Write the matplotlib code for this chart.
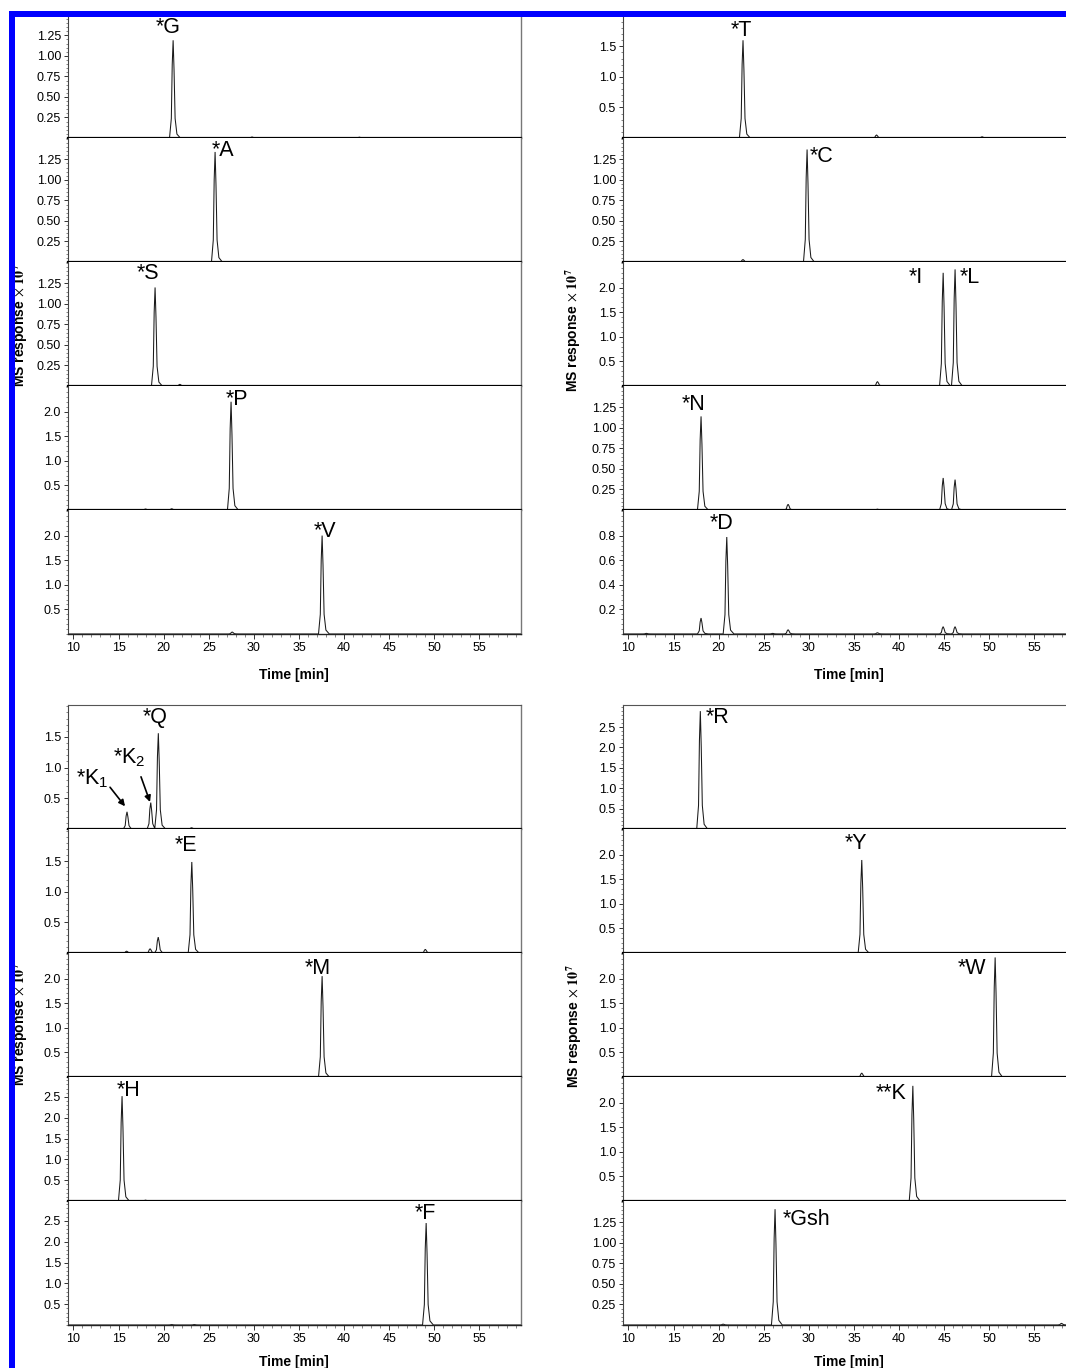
import matplotlib
matplotlib.use("Agg")
import matplotlib.pyplot as plt
from matplotlib.ticker import MultipleLocator, FixedLocator, FormatStrFormatter
from matplotlib.patches import Rectangle

plt.rcParams['font.family'] = ['Liberation Sans', 'DejaVu Sans']
plt.rcParams['mathtext.fontset'] = 'custom'
plt.rcParams['mathtext.rm'] = 'Liberation Sans'
plt.rcParams['mathtext.it'] = 'Liberation Sans:italic'
plt.rcParams['mathtext.bf'] = 'Liberation Sans:bold'

W, H = 1066, 1368
XMIN, XMAX = 9.4, 59.6

# peak profile (offset from apex in min, fraction of apex height)
SHAPE_DT = [-0.4, -0.2, -0.1, 0.0, 0.1, 0.22, 0.42, 0.8]
SHAPE_FR = [0.0, 0.2, 0.75, 1.0, 0.7, 0.2, 0.04, 0.0]

# ---------------- data: retention times (min) and apex heights (x 1e7) ----------------
G_t = [21.05, 29.8, 41.7];                 G_h = [1.19, 0.012, 0.01]
A_t = [25.7];                              A_h = [1.34]
S_t = [19.05, 21.8];                       S_h = [1.20, 0.02]
P_t = [18.0, 20.9, 27.47];                 P_h = [0.02, 0.025, 2.20]
V_t = [27.6, 37.56];                       V_h = [0.04, 2.00]

T_t = [22.7, 37.5, 49.2];                  T_h = [1.60, 0.05, 0.02]
C_t = [22.7, 29.8];                        C_h = [0.03, 1.37]
IL_t = [17.9, 37.6, 44.88, 46.2];          IL_h = [0.01, 0.09, 2.30, 2.37]
N_t = [18.05, 27.7, 37.6, 44.88, 46.2];    N_h = [1.14, 0.07, 0.01, 0.39, 0.37]
D_t = [12.0, 18.05, 20.9, 26.0, 27.7, 37.6, 44.88, 46.2]
D_h = [0.005, 0.13, 0.79, 0.005, 0.035, 0.01, 0.06, 0.06]

Q_t = [15.94, 18.57, 19.41, 23.1];         Q_h = [0.28, 0.43, 1.56, 0.02]
E_t = [15.9, 18.5, 19.4, 23.12, 49.0];     E_h = [0.03, 0.07, 0.26, 1.49, 0.06]
M_t = [23.1, 37.56, 44.8, 45.9];           M_h = [0.01, 2.05, 0.01, 0.01]
H_t = [15.39, 18.0, 20.9, 37.6];           H_h = [2.52, 0.02, 0.01, 0.01]
F_t = [20.9, 23.4, 49.09];                 F_h = [0.01, 0.01, 2.45]

R_t = [17.97, 41.45];                      R_h = [2.89, 0.01]
Y_t = [35.86];                             Y_h = [1.89]
Wp_t = [35.86, 50.64];                     Wp_h = [0.08, 2.43]
KK_t = [41.52];                            KK_h = [2.34]
Gsh_t = [20.5, 26.25, 58.0];               Gsh_h = [0.01, 1.41, 0.02]

TICK_125 = [0.25, 0.50, 0.75, 1.00, 1.25]
TICK_20 = [0.5, 1.0, 1.5, 2.0]
TICK_15 = [0.5, 1.0, 1.5]
TICK_25 = [0.5, 1.0, 1.5, 2.0, 2.5]
TICK_08 = [0.2, 0.4, 0.6, 0.8]
X_TICKS = [10, 15, 20, 25, 30, 35, 40, 45, 50, 55]

# ---------------- layout (col, group, row) and labels ----------------
panels = [
    dict(c=0, g=0, r=0, t=G_t, h=G_h, ylim=1.51, yt=TICK_125, fmt='%.2f', mn=0.05, lab=[('*G', 20.49, 1.34)]),
    dict(c=0, g=0, r=1, t=A_t, h=A_h, ylim=1.51, yt=TICK_125, fmt='%.2f', mn=0.05, lab=[('*A', 26.58, 1.36)]),
    dict(c=0, g=0, r=2, t=S_t, h=S_h, ylim=1.51, yt=TICK_125, fmt='%.2f', mn=0.05, lab=[('*S', 18.27, 1.37)]),
    dict(c=0, g=0, r=3, t=P_t, h=P_h, ylim=2.52, yt=TICK_20, fmt='%.1f', mn=0.1, lab=[('*P', 28.14, 2.24)]),
    dict(c=0, g=0, r=4, t=V_t, h=V_h, ylim=2.52, yt=TICK_20, fmt='%.1f', mn=0.1, lab=[('*V', 37.89, 2.08)]),
    dict(c=1, g=0, r=0, t=T_t, h=T_h, ylim=2.03, yt=TICK_15, fmt='%.1f', mn=0.1, lab=[('*T', 22.48, 1.76)]),
    dict(c=1, g=0, r=1, t=C_t, h=C_h, ylim=1.51, yt=TICK_125, fmt='%.2f', mn=0.05, lab=[('*C', 31.46, 1.29)]),
    dict(c=1, g=0, r=2, t=IL_t, h=IL_h, ylim=2.52, yt=TICK_20, fmt='%.1f', mn=0.1, lab=[('*I', 41.88, 2.2), ('*L', 47.87, 2.2)]),
    dict(c=1, g=0, r=3, t=N_t, h=N_h, ylim=1.51, yt=TICK_125, fmt='%.2f', mn=0.05, lab=[('*N', 17.27, 1.28)]),
    dict(c=1, g=0, r=4, t=D_t, h=D_h, ylim=1.01, yt=TICK_08, fmt='%.1f', mn=0.04, lab=[('*D', 20.38, 0.9)]),
    dict(c=0, g=1, r=0, t=Q_t, h=Q_h, ylim=2.02, yt=TICK_15, fmt='%.1f', mn=0.1,
         lab=[('*Q', 19.05, 1.81), ('*K$_2$', 16.16, 1.16), ('*K$_1$', 12.06, 0.82)]),
    dict(c=0, g=1, r=1, t=E_t, h=E_h, ylim=2.03, yt=TICK_15, fmt='%.1f', mn=0.1, lab=[('*E', 22.48, 1.76)]),
    dict(c=0, g=1, r=2, t=M_t, h=M_h, ylim=2.52, yt=TICK_20, fmt='%.1f', mn=0.1, lab=[('*M', 37.12, 2.21)]),
    dict(c=0, g=1, r=3, t=H_t, h=H_h, ylim=2.98, yt=TICK_25, fmt='%.1f', mn=0.1, lab=[('*H', 16.16, 2.66)]),
    dict(c=0, g=1, r=4, t=F_t, h=F_h, ylim=2.98, yt=TICK_25, fmt='%.1f', mn=0.1, lab=[('*F', 48.98, 2.68)]),
    dict(c=1, g=1, r=0, t=R_t, h=R_h, ylim=3.04, yt=TICK_25, fmt='%.1f', mn=0.1, lab=[('*R', 19.93, 2.74)]),
    dict(c=1, g=1, r=1, t=Y_t, h=Y_h, ylim=2.52, yt=TICK_20, fmt='%.1f', mn=0.1, lab=[('*Y', 35.23, 2.23)]),
    dict(c=1, g=1, r=2, t=Wp_t, h=Wp_h, ylim=2.52, yt=TICK_20, fmt='%.1f', mn=0.1, lab=[('*W', 48.09, 2.21)]),
    dict(c=1, g=1, r=3, t=KK_t, h=KK_h, ylim=2.52, yt=TICK_20, fmt='%.1f', mn=0.1, lab=[('**K', 39.11, 2.19)]),
    dict(c=1, g=1, r=4, t=Gsh_t, h=Gsh_h, ylim=1.51, yt=TICK_125, fmt='%.2f', mn=0.05, lab=[('*Gsh', 29.69, 1.28)]),
]

COL_X = [68, 623]
GRP_TOP = [14, 705]
AX_W, AX_H = 453, 124


def build_trace(times, heights):
    pk = sorted(zip(times, heights))
    xs, ys = [XMIN], [0.0]
    for i, (t, h) in enumerate(pk):
        nxt = pk[i + 1][0] + SHAPE_DT[0] if i + 1 < len(pk) else XMAX
        for dt, fr in zip(SHAPE_DT, SHAPE_FR):
            x = t + dt
            if x <= xs[-1] or x >= nxt:
                continue
            xs.append(x)
            ys.append(h * fr)
    xs.append(XMAX)
    ys.append(0.0)
    return xs, ys


fig = plt.figure(figsize=(W / 100, H / 100), dpi=100)

for p in panels:
    x0 = COL_X[p['c']]
    top = GRP_TOP[p['g']] + AX_H * p['r']
    ax = fig.add_axes([x0 / W, 1 - (top + AX_H) / H, AX_W / W, AX_H / H])
    xs, ys = build_trace(p['t'], p['h'])
    ax.plot(xs, ys, color='#1a1a1a', lw=0.75, solid_joinstyle='miter')
    ax.set_xlim(XMIN, XMAX)
    ax.set_ylim(0, p['ylim'])

    ax.yaxis.set_major_locator(FixedLocator(p['yt']))
    ax.yaxis.set_major_formatter(FormatStrFormatter(p['fmt']))
    ax.yaxis.set_minor_locator(MultipleLocator(p['mn']))
    ax.tick_params(axis='y', which='major', direction='out', length=3, width=0.7,
                   colors='#333333', labelcolor='black', labelsize=9, pad=2)
    ax.tick_params(axis='y', which='minor', direction='out', length=1.5, width=0.5, colors='#555555')

    ax.spines['left'].set_color('#444444')
    ax.spines['left'].set_linewidth(0.8)
    if p['c'] == 0:
        ax.spines['right'].set_color('#777777')
        ax.spines['right'].set_linewidth(1.0)
    else:
        ax.spines['right'].set_visible(False)
    if p['r'] == 0 and p['g'] == 1:
        ax.spines['top'].set_color('#555555')
        ax.spines['top'].set_linewidth(0.8)
    else:
        ax.spines['top'].set_visible(False)

    if p['r'] < 4:
        ax.spines['bottom'].set_color('black')
        ax.spines['bottom'].set_linewidth(1.6)
        ax.tick_params(axis='x', which='both', bottom=False, labelbottom=False)
    else:
        ax.spines['bottom'].set_color('#222222')
        ax.spines['bottom'].set_linewidth(1.0)
        ax.xaxis.set_major_locator(FixedLocator(X_TICKS))
        ax.xaxis.set_minor_locator(MultipleLocator(1))
        ax.tick_params(axis='x', which='major', direction='out', length=3.5, width=0.7,
                       colors='#333333', labelcolor='black', labelsize=9, pad=2)
        ax.tick_params(axis='x', which='minor', direction='out', length=1.8, width=0.5, colors='#555555')

    for txt, tx, ty in p['lab']:
        ax.text(tx, ty, txt, ha='center', va='center', fontsize=15.5, color='black', clip_on=False)

    if p['c'] == 0 and p['g'] == 1 and p['r'] == 0:
        arrow = dict(arrowstyle='-|>', color='black', lw=1.2, mutation_scale=9, shrinkA=0, shrinkB=0)
        ax.annotate('', xy=(15.72, 0.37), xytext=(14.06, 0.68), arrowprops=arrow)
        ax.annotate('', xy=(18.49, 0.44), xytext=(17.49, 0.85), arrowprops=arrow)

# axis titles
for cx, cy in [(294, 675), (849, 675), (294, 1362), (849, 1362)]:
    fig.text(cx / W, 1 - cy / H, 'Time [min]', ha='center', va='center', fontsize=10, fontweight='bold')

ylab = r'MS response $\times$ $\mathbf{10^{7}}$'
for cx, cy in [(20, 325), (573, 330), (20, 1024), (574, 1026)]:
    fig.text(cx / W, 1 - cy / H, ylab, ha='center', va='center', rotation=90,
             fontsize=10, fontweight='bold', math_fontfamily='stix')

# blue frame
fig.patches.append(Rectangle((9 / W, 0), 6 / W, (H - 11) / H, transform=fig.transFigure,
                             facecolor='#0000ff', edgecolor='none', zorder=20))
fig.patches.append(Rectangle((9 / W, 1 - 17 / H), (W - 9) / W, 6 / H, transform=fig.transFigure,
                             facecolor='#0000ff', edgecolor='none', zorder=20))

fig.savefig('out.png', dpi=100)
